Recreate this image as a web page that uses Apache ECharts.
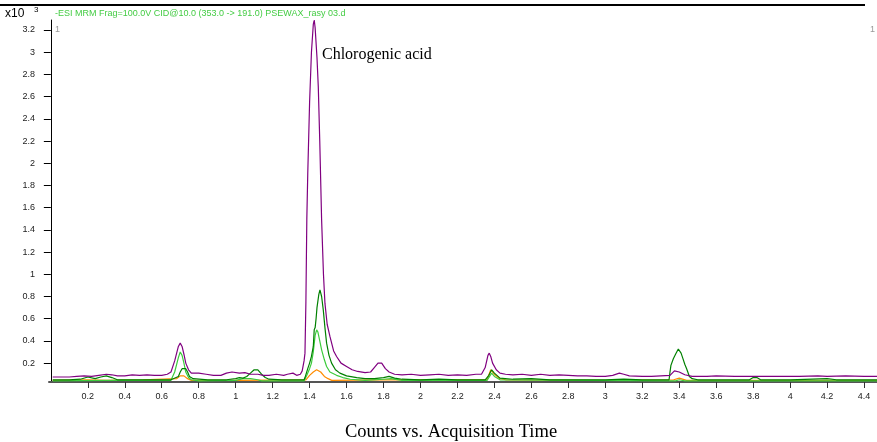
<!DOCTYPE html>
<html>
<head>
<meta charset="utf-8">
<script src="https://cdn.jsdelivr.net/npm/echarts@6/dist/echarts.min.js"></script>
<style>
  html, body { margin: 0; padding: 0; background: #ffffff; }
  #chart { width: 877px; height: 442px; }
</style>
</head>
<body>
<div id="chart"></div>
<script>
// Acquisition time ticks (min) and response ticks (x10^3 counts)
const timeTicks = [0.2, 0.4, 0.6, 0.8, 1, 1.2, 1.4, 1.6, 1.8, 2, 2.2, 2.4, 2.6, 2.8, 3, 3.2, 3.4, 3.6, 3.8, 4, 4.2, 4.4];
const countTicks = [0.2, 0.4, 0.6, 0.8, 1, 1.2, 1.4, 1.6, 1.8, 2, 2.2, 2.4, 2.6, 2.8, 3, 3.2];

// Purple trace
const purpleTime = [0.01, 0.1, 0.14, 0.18, 0.22, 0.26, 0.3, 0.33, 0.36, 0.4, 0.44, 0.48, 0.52, 0.56, 0.6, 0.63, 0.65, 0.67, 0.69, 0.7, 0.71, 0.72, 0.73, 0.745, 0.76, 0.8, 0.84, 0.88, 0.92, 0.95, 0.98, 1.02, 1.05, 1.08, 1.12, 1.15, 1.18, 1.22, 1.26, 1.28, 1.31, 1.33, 1.35, 1.36, 1.37, 1.375, 1.38, 1.385, 1.39, 1.4, 1.41, 1.42, 1.425, 1.43, 1.44, 1.447, 1.455, 1.465, 1.475, 1.483, 1.495, 1.51, 1.53, 1.546, 1.57, 1.6, 1.63, 1.66, 1.7, 1.73, 1.75, 1.77, 1.78, 1.79, 1.81, 1.83, 1.86, 1.9, 1.95, 2.0, 2.05, 2.1, 2.15, 2.2, 2.25, 2.3, 2.33, 2.35, 2.365, 2.372, 2.38, 2.39, 2.41, 2.43, 2.46, 2.5, 2.55, 2.6, 2.65, 2.7, 2.75, 2.8, 2.85, 2.9, 2.95, 3.0, 3.04, 3.076, 3.1, 3.13, 3.2, 3.25, 3.3, 3.35, 3.374, 3.4, 3.43, 3.47, 3.55, 3.6, 3.7, 3.8, 3.9, 4.0, 4.05, 4.15, 4.2, 4.3, 4.4, 4.47];
const purpleCounts = [0.075, 0.075, 0.08, 0.085, 0.08, 0.09, 0.1, 0.095, 0.085, 0.085, 0.095, 0.09, 0.095, 0.09, 0.09, 0.1, 0.12, 0.22, 0.35, 0.38, 0.35, 0.28, 0.2, 0.14, 0.11, 0.11, 0.1, 0.09, 0.09, 0.11, 0.12, 0.11, 0.115, 0.1, 0.1, 0.09, 0.09, 0.1, 0.09, 0.1, 0.11, 0.09, 0.1, 0.13, 0.22, 0.29, 0.75, 1.5, 1.9, 2.55, 3.0, 3.25, 3.29, 3.22, 2.95, 2.69, 2.2, 1.49, 1.0, 0.74, 0.55, 0.44, 0.31, 0.26, 0.2, 0.17, 0.14, 0.125, 0.115, 0.12, 0.16, 0.2, 0.21, 0.2, 0.15, 0.12, 0.1, 0.095, 0.1, 0.09, 0.095, 0.1, 0.09, 0.095, 0.09, 0.1, 0.1, 0.16, 0.27, 0.29, 0.26, 0.2, 0.14, 0.11, 0.1, 0.095, 0.1, 0.09, 0.1, 0.09, 0.095, 0.09, 0.085, 0.085, 0.08, 0.08, 0.09, 0.11, 0.1, 0.085, 0.08, 0.08, 0.085, 0.09, 0.13, 0.12, 0.095, 0.08, 0.08, 0.085, 0.08, 0.08, 0.08, 0.08, 0.08, 0.085, 0.08, 0.085, 0.08, 0.08];

// Dark green trace
const darkGreenTime = [0.01, 0.1, 0.16, 0.2, 0.24, 0.27, 0.3, 0.33, 0.36, 0.45, 0.55, 0.65, 0.69, 0.7, 0.71, 0.72, 0.73, 0.74, 0.75, 0.77, 0.85, 0.95, 1.0, 1.02, 1.04, 1.06, 1.08, 1.1, 1.11, 1.12, 1.14, 1.16, 1.18, 1.25, 1.37, 1.375, 1.39, 1.4, 1.41, 1.42, 1.425, 1.43, 1.435, 1.44, 1.45, 1.456, 1.465, 1.474, 1.483, 1.492, 1.505, 1.519, 1.54, 1.564, 1.6, 1.655, 1.7, 1.75, 1.8, 1.83, 1.86, 1.9, 2.0, 2.1, 2.2, 2.35, 2.37, 2.385, 2.4, 2.43, 2.5, 2.6, 2.7, 2.85, 3.0, 3.1, 3.2, 3.345, 3.35, 3.355, 3.368, 3.38, 3.395, 3.41, 3.42, 3.43, 3.44, 3.455, 3.47, 3.5, 3.65, 3.78, 3.8, 3.82, 3.84, 4.0, 4.2, 4.25, 4.47];
const darkGreenCounts = [0.05, 0.05, 0.055, 0.075, 0.06, 0.075, 0.085, 0.07, 0.05, 0.05, 0.05, 0.05, 0.08, 0.12, 0.15, 0.165, 0.15, 0.12, 0.08, 0.06, 0.05, 0.05, 0.06, 0.07, 0.065, 0.08, 0.11, 0.14, 0.154, 0.14, 0.1, 0.07, 0.055, 0.05, 0.05, 0.07, 0.15, 0.2, 0.26, 0.35, 0.5, 0.52, 0.6, 0.7, 0.82, 0.86, 0.8, 0.68, 0.52, 0.38, 0.27, 0.2, 0.14, 0.11, 0.085, 0.07, 0.06, 0.06, 0.07, 0.08, 0.065, 0.055, 0.05, 0.055, 0.05, 0.05, 0.09, 0.14, 0.11, 0.065, 0.055, 0.06, 0.05, 0.05, 0.05, 0.055, 0.05, 0.05, 0.12, 0.18, 0.24, 0.28, 0.327, 0.29, 0.24, 0.19, 0.15, 0.08, 0.06, 0.05, 0.05, 0.05, 0.07, 0.07, 0.05, 0.05, 0.06, 0.05, 0.05];

// Light green trace
const lightGreenTime = [0.01, 0.3, 0.65, 0.67, 0.69, 0.7, 0.71, 0.72, 0.73, 0.745, 0.76, 0.8, 1.0, 1.04, 1.08, 1.12, 1.14, 1.37, 1.385, 1.4, 1.41, 1.42, 1.43, 1.438, 1.445, 1.455, 1.465, 1.48, 1.492, 1.51, 1.546, 1.58, 1.62, 1.7, 1.8, 1.84, 1.9, 2.36, 2.385, 2.4, 2.43, 3.38, 3.4, 3.43, 4.47];
const lightGreenCounts = [0.04, 0.045, 0.045, 0.12, 0.25, 0.3, 0.27, 0.2, 0.12, 0.07, 0.05, 0.04, 0.045, 0.06, 0.06, 0.05, 0.04, 0.04, 0.09, 0.15, 0.2, 0.3, 0.45, 0.5, 0.48, 0.4, 0.32, 0.23, 0.17, 0.12, 0.09, 0.07, 0.055, 0.045, 0.055, 0.06, 0.045, 0.045, 0.11, 0.08, 0.05, 0.04, 0.05, 0.04, 0.04];

// Orange trace
const orangeTime = [0.01, 0.2, 0.3, 0.5, 0.68, 0.7, 0.72, 0.74, 0.76, 1.0, 1.38, 1.4, 1.42, 1.438, 1.46, 1.48, 1.5, 1.52, 1.8, 2.36, 2.38, 2.4, 2.43, 2.46, 3.0, 3.37, 3.4, 3.44, 3.8, 4.2, 4.47];
const orangeCounts = [0.045, 0.05, 0.045, 0.05, 0.06, 0.085, 0.085, 0.06, 0.045, 0.045, 0.05, 0.09, 0.12, 0.14, 0.12, 0.08, 0.06, 0.045, 0.05, 0.05, 0.14, 0.1, 0.06, 0.05, 0.045, 0.05, 0.065, 0.045, 0.045, 0.045, 0.045];

const pairs = (t, v) => t.map((x, i) => [x, v[i]]);

const traces = [
  { name: 'orange', color: '#ff8c00', t: orangeTime, v: orangeCounts },
  { name: 'lightGreen', color: '#3ccc3c', t: lightGreenTime, v: lightGreenCounts },
  { name: 'darkGreen', color: '#008000', t: darkGreenTime, v: darkGreenCounts },
  { name: 'purple', color: '#800080', t: purpleTime, v: purpleCounts }
];

const chart = echarts.init(document.getElementById('chart'), null, { renderer: 'canvas' });

chart.setOption({
  animation: false,
  backgroundColor: '#ffffff',
  grid: { left: 49, right: 0, top: 20, bottom: 60, containLabel: false, outerBoundsMode: 'none' },
  xAxis: {
    type: 'value',
    min: -0.01,
    max: 4.47,
    axisLine: { show: true, onZero: false, lineStyle: { color: '#555555', width: 2 } },
    axisTick: { show: true, length: 6, customValues: timeTicks, lineStyle: { color: '#333333' } },
    axisLabel: { show: true, customValues: timeTicks, margin: 10, fontSize: 9, color: '#222222', fontFamily: 'Liberation Sans, Arial, sans-serif' },
    splitLine: { show: false }
  },
  yAxis: {
    type: 'value',
    min: 0.03,
    max: 3.29,
    axisLine: { show: true, lineStyle: { color: '#000000', width: 1 } },
    axisTick: { show: true, length: 7, customValues: countTicks, lineStyle: { color: '#000000' } },
    axisLabel: { show: true, customValues: countTicks, margin: 14, fontSize: 9, color: '#222222', fontFamily: 'Liberation Sans, Arial, sans-serif' },
    splitLine: { show: false }
  },
  series: traces.map(tr => ({
    name: tr.name,
    type: 'line',
    data: pairs(tr.t, tr.v),
    showSymbol: false,
    smooth: false,
    clip: true,
    lineStyle: { color: tr.color, width: 1.2 },
    itemStyle: { color: tr.color }
  })),
  graphic: [
    { type: 'line', shape: { x1: 0, y1: 5, x2: 865, y2: 5 }, style: { stroke: '#000000', lineWidth: 2 } },
    { type: 'text', left: 5, top: 8, style: { text: 'x10', font: '12px "Liberation Sans", Arial, sans-serif', fill: '#000000' } },
    { type: 'text', left: 34, top: 6, style: { text: '3', font: '8px "Liberation Sans", Arial, sans-serif', fill: '#000000' } },
    { type: 'text', left: 55, top: 9, style: { text: '-ESI MRM Frag=100.0V CID@10.0 (353.0 -> 191.0) PSEWAX_rasy 03.d', font: '9px "Liberation Sans", Arial, sans-serif', fill: '#44cc44' } },
    { type: 'text', left: 55, top: 25, style: { text: '1', font: '9px "Liberation Sans", Arial, sans-serif', fill: '#999999' } },
    { type: 'text', left: 870, top: 25, style: { text: '1', font: '9px "Liberation Sans", Arial, sans-serif', fill: '#999999' } },
    { type: 'text', left: 322, top: 47, style: { text: 'Chlorogenic acid', font: '16px "Liberation Serif", "Times New Roman", serif', fill: '#000000' } },
    { type: 'text', left: 345, top: 423, style: { text: 'Counts vs. Acquisition Time', font: '18.5px "Liberation Serif", "Times New Roman", serif', fill: '#000000' } }
  ]
});
</script>
</body>
</html>
